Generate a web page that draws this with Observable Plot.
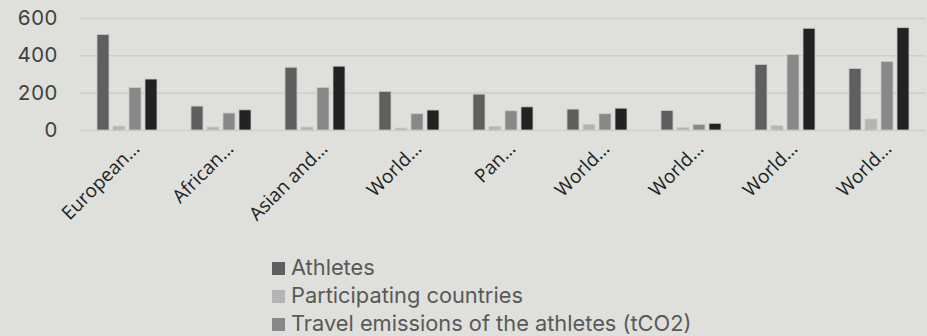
<!DOCTYPE html>
<html>
<head>
<meta charset="utf-8">
<script src="https://cdn.jsdelivr.net/npm/d3@7"></script>
<script src="https://cdn.jsdelivr.net/npm/@observablehq/plot@0.6"></script>
<style>
  html, body { margin: 0; padding: 0; background: #dfdfdb; overflow: hidden; }
  body { position: relative; width: 927px; height: 336px; }
  #chart svg { display: block; }
  #chart g[aria-label="y-axis tick label"] { font-size: 20.5px; font-family: Inter, "Open Sans", sans-serif; }
  #chart g[aria-label="fx-axis tick label"] { font-size: 19px; font-family: "Open Sans", sans-serif; }
  .legend { position: absolute; left: 272px; top: 253px; font-family: Inter, "Open Sans", sans-serif; font-size: 21.8px; line-height: 28px; color: #595959; white-space: nowrap; }
  .legend .item { height: 28px; }
  .legend .swatch { display: inline-block; width: 13px; height: 13px; margin-right: 6px; vertical-align: baseline; }
</style>
</head>
<body>
<div id="chart"></div>
<div class="legend" id="legend"></div>
<script>
// Event labels as printed under each group
const labels = ["European…", "African…", "Asian and…", "World…", "Pan…", "World…", "World…", "World…", "World…"];

// Series
const series = [
  "Athletes",
  "Participating countries",
  "Travel emissions of the athletes (tCO2)",
  "Travel emissions of the spectators (tCO2)"
];
const colors = ["#5f5f5f", "#b4b4b4", "#888888", "#222222"];
// The legend lists the first three series only
const legendSeries = series.slice(0, 3);

const athletes   = [512, 128, 336, 207, 192, 112, 105, 351, 329];
const countries  = [ 21,  16,  16,  10,  20,  30,  14,  23,  59];
const athleteCO2 = [228,  91, 228,  87, 103,  87,  30, 404, 367];
const otherCO2   = [273, 108, 342, 107, 124, 117,  36, 545, 548];

const yTicks = [0, 200, 400, 600];

const values = [athletes, countries, athleteCO2, otherCO2];
const rows = [];
labels.forEach((_, i) => {
  series.forEach((s, k) => rows.push({group: i, series: s, value: values[k][i]}));
});

const chart = Plot.plot({
  width: 927,
  height: 250,
  marginLeft: 78,
  marginRight: 0,
  marginTop: 18,
  marginBottom: 120,
  style: {background: "transparent", fontFamily: "Inter, 'Open Sans', sans-serif"},
  fx: {domain: d3.range(labels.length), padding: 0, label: null, axis: null},
  x: {domain: series, paddingInner: 0.235, paddingOuter: 0.892, axis: null},
  y: {domain: [0, 600], label: null, axis: null},
  color: {domain: series, range: colors},
  marks: [
    Plot.gridY(yTicks, {stroke: "#cdcdcd", strokeOpacity: 1, strokeWidth: 1.5}),
    Plot.axisY(yTicks, {tickSize: 0, tickPadding: 23, fill: "#404040", label: null}),
    Plot.barY(rows, {fx: "group", x: "series", y: "value", fill: "series", stroke: "#c9c9c9", strokeWidth: 0.8}),
    Plot.axisFx({
      anchor: "bottom", tickRotate: -45, tickSize: 0, tickPadding: 6,
      tickFormat: i => labels[i], fill: "#222", dx: 9, dy: 9, label: null
    })
  ]
});
document.getElementById("chart").appendChild(chart);

// Legend
const legend = document.getElementById("legend");
legendSeries.forEach((s, k) => {
  const item = document.createElement("div");
  item.className = "item";
  const sw = document.createElement("span");
  sw.className = "swatch";
  sw.style.background = colors[k];
  const tx = document.createElement("span");
  tx.textContent = s;
  item.append(sw, tx);
  legend.appendChild(item);
});
</script>
</body>
</html>
